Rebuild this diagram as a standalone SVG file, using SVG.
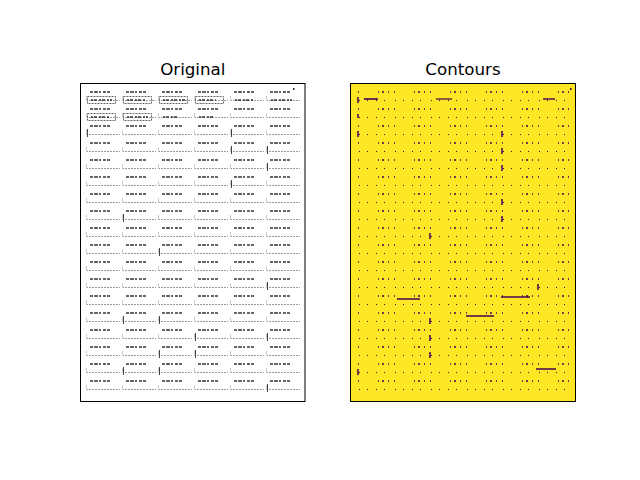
<svg xmlns="http://www.w3.org/2000/svg" width="640" height="480" viewBox="0 0 640 480">
<style>
.title{font-family:"DejaVu Sans",sans-serif;font-size:16.7px;fill:#000;text-anchor:middle}
.frame{fill:none;stroke:#000;stroke-width:1}
</style>
<defs>
<pattern id="origCell" patternUnits="userSpaceOnUse" x="86" y="88" width="36" height="17">
<line x1="4" y1="4" x2="24" y2="4" stroke="#666" stroke-width="2" stroke-dasharray="3 1 4 1 2 2 3 1"/>
<line x1="0" y1="12.5" x2="34" y2="12.5" stroke="#999" stroke-width="1" stroke-dasharray="2 1"/>
<line x1="0.5" y1="8" x2="0.5" y2="13" stroke="#ccc" stroke-width="1"/>
</pattern>
<pattern id="contCell" patternUnits="userSpaceOnUse" x="86" y="88" width="36" height="17">
<line x1="4" y1="4" x2="24" y2="4" stroke="#440154" stroke-width="1.5" stroke-dasharray="1 3 2 4 1 5"/>
<line x1="2" y1="12.5" x2="34" y2="12.5" stroke="#440154" stroke-width="1" stroke-dasharray="1 7 1 10"/>
</pattern>
</defs>

<g id="original">
<rect x="80.5" y="83.5" width="224.5" height="318" fill="#fff"/>
<rect x="86" y="88" width="216" height="306" fill="url(#origCell)"/>
<g stroke="#666" stroke-width="1" fill="none">
<rect x="87.5" y="96.5" width="28" height="7" stroke-dasharray="2 1"/>
<rect x="123.5" y="96.5" width="28" height="7" stroke-dasharray="2 1"/>
<rect x="159.5" y="96.5" width="28" height="7" stroke-dasharray="2 1"/>
<rect x="195.5" y="96.5" width="28" height="7" stroke-dasharray="2 1"/>
<rect x="87.5" y="113.5" width="28" height="7" stroke-dasharray="2 1"/>
<rect x="123.5" y="113.5" width="28" height="7" stroke-dasharray="2 1"/>
</g>
<g stroke="#333" stroke-width="1.5" stroke-dasharray="2 1 3 2">
<line x1="91" y1="100" x2="112" y2="100"/>
<line x1="127" y1="100" x2="146" y2="100"/>
<line x1="163" y1="100" x2="186" y2="100"/>
<line x1="199" y1="100" x2="216" y2="100"/>
<line x1="235" y1="100" x2="254" y2="100"/>
<line x1="271" y1="100" x2="292" y2="100"/>
<line x1="91" y1="117" x2="110" y2="117"/>
<line x1="127" y1="117" x2="148" y2="117"/>
<line x1="163" y1="117" x2="178" y2="117"/>
<line x1="199" y1="117" x2="214" y2="117"/>
</g>
<g stroke="#444" stroke-width="1">
<line x1="87.5" y1="129" x2="87.5" y2="137"/>
<line x1="231.5" y1="129" x2="231.5" y2="137"/>
<line x1="267.5" y1="146" x2="267.5" y2="154"/>
<line x1="231.5" y1="146" x2="231.5" y2="154"/>
<line x1="267.5" y1="163" x2="267.5" y2="171"/>
<line x1="231.5" y1="180" x2="231.5" y2="188"/>
<line x1="123.5" y1="214" x2="123.5" y2="222"/>
<line x1="159.5" y1="248" x2="159.5" y2="256"/>
<line x1="267.5" y1="282" x2="267.5" y2="290"/>
<line x1="123.5" y1="316" x2="123.5" y2="324"/>
<line x1="159.5" y1="316" x2="159.5" y2="324"/>
<line x1="195.5" y1="333" x2="195.5" y2="341"/>
<line x1="267.5" y1="333" x2="267.5" y2="341"/>
<line x1="159.5" y1="350" x2="159.5" y2="358"/>
<line x1="195.5" y1="350" x2="195.5" y2="358"/>
<line x1="123.5" y1="367" x2="123.5" y2="375"/>
<line x1="159.5" y1="367" x2="159.5" y2="375"/>
<line x1="267.5" y1="384" x2="267.5" y2="392"/>
</g>
<rect x="293" y="88" width="1.5" height="2" fill="#333"/>
<rect class="frame" x="80.5" y="83.5" width="224.5" height="318"/>
</g>

<g id="contours">
<rect x="350.5" y="83.5" width="225" height="318" fill="#fde725"/>
<rect x="356" y="88" width="216" height="306" fill="url(#contCell)"/>
<g stroke="#440154" stroke-width="1.5">
<line x1="358" y1="97" x2="358" y2="103"/>
<line x1="358" y1="114" x2="358" y2="118"/>
<line x1="358" y1="131" x2="358" y2="137"/>
<line x1="502" y1="131" x2="502" y2="137"/>
<line x1="502" y1="148" x2="502" y2="154"/>
<line x1="502" y1="165" x2="502" y2="171"/>
<line x1="502" y1="199" x2="502" y2="205"/>
<line x1="502" y1="216" x2="502" y2="222"/>
<line x1="430" y1="233" x2="430" y2="239"/>
<line x1="430" y1="318" x2="430" y2="324"/>
<line x1="430" y1="335" x2="430" y2="341"/>
<line x1="430" y1="352" x2="430" y2="358"/>
<line x1="358" y1="369" x2="358" y2="375"/>
<line x1="538" y1="284" x2="538" y2="290"/>
</g>
<g stroke="#440154" stroke-width="1.5">
<line x1="466" y1="316" x2="494" y2="316"/>
<line x1="397" y1="299" x2="420" y2="299"/>
<line x1="501" y1="297" x2="530" y2="297"/>
<line x1="536" y1="369" x2="556" y2="369"/>
</g>
<g fill="#440154">
<rect x="364" y="98" width="14" height="2" opacity="0.8"/>
<rect x="436" y="98" width="16" height="2" opacity="0.6"/>
<rect x="543" y="98" width="12" height="2" opacity="0.7"/>
<rect x="570" y="88" width="1.5" height="2"/>
</g>
<rect class="frame" x="350.5" y="83.5" width="225" height="318"/>
</g>

<text class="title" x="192.8" y="75">Original</text>
<text class="title" x="463" y="75">Contours</text>
</svg>
